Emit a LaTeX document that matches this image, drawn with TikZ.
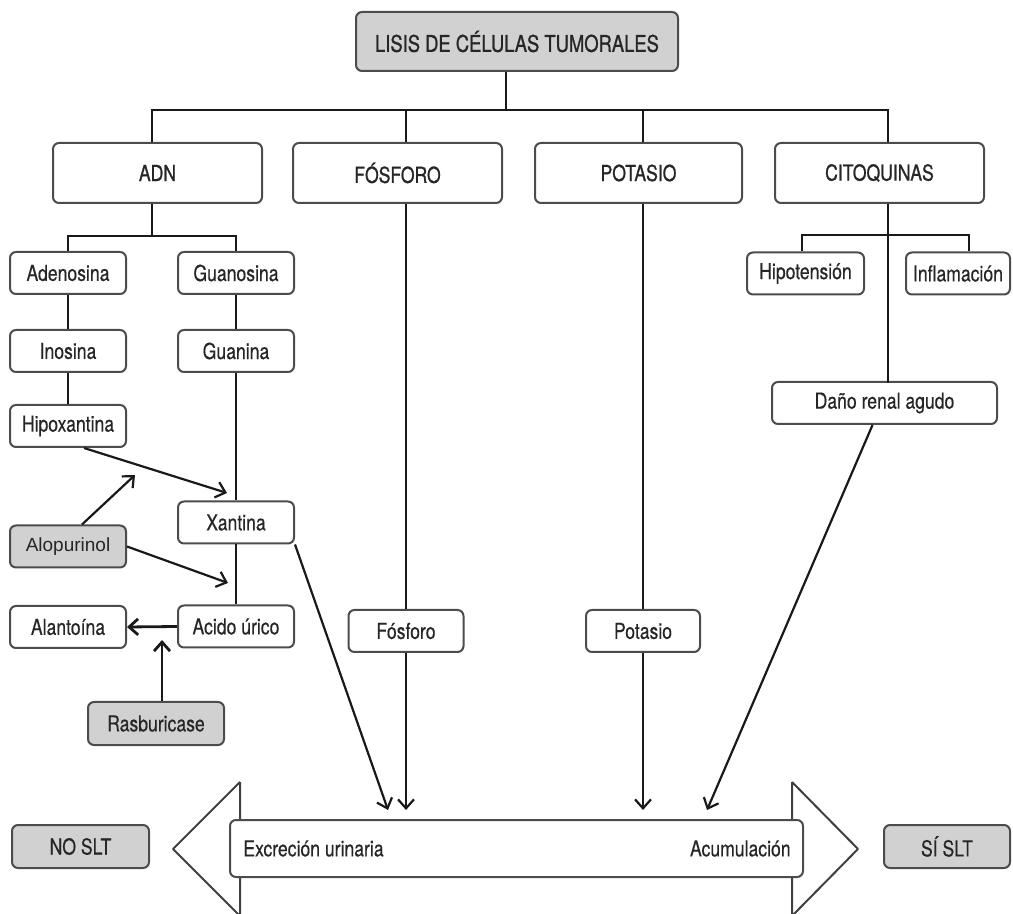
\documentclass[tikz,border=0pt]{standalone}
\usepackage{fontspec}
\setmainfont{TeX Gyre Heros}[FakeStretch=0.8,FakeBold=0.35]
\newfontfamily\cabecera{TeX Gyre Heros}[FakeStretch=0.8,FakeBold=0.9]
\newfontfamily\arialf{Liberation Sans}
\usetikzlibrary{arrows.meta}

\begin{document}
\begin{tikzpicture}[x=0.5pt,y=-0.5pt,
    caja/.style={draw=black!70,line width=1pt,rounded corners=3pt,fill=white,
      text=black!85,inner sep=0pt,minimum width=58pt,minimum height=21pt,
      font=\fontsize{11}{13}\selectfont},
    gris/.style={caja,fill=black!18},
    grande/.style={caja,minimum width=104.5pt,minimum height=30pt,font=\cabecera\fontsize{11}{13}\selectfont},
    linea/.style={line width=1.1pt,black!90},
    flecha/.style={linea,-{Straight Barb[length=4.5pt,width=8pt]}}]
  \useasboundingbox (0,0) rectangle (1013,914);

  \draw[line width=1pt,black!75,line join=round] (240,782) -- (173,849) -- (240,916) (240,782) -- (240,916);
  \draw[line width=1pt,black!75,line join=round] (792,782) -- (858,849) -- (792,916) (792,782) -- (792,916);

  \node[gris,minimum width=161pt,minimum height=29.5pt,font=\cabecera\fontsize{11.5}{13}\selectfont] (titulo) at (517,41.5) {LISIS DE CÉLULAS TUMORALES};

  \node[grande] (adn) at (157.5,173) {ADN};
  \node[grande] (fosforo) at (397.5,173) {FÓSFORO};
  \node[grande,minimum width=103.5pt] (potasio) at (638.5,173) {POTASIO};
  \node[grande] (citoq) at (879.5,173) {CITOQUINAS};

  \node[caja] (adenosina) at (68,273) {Adenosina};
  \node[caja] (guanosina) at (236,273) {Guanosina};
  \node[caja] (inosina) at (68,351) {Inosina};
  \node[caja] (guanina) at (236,351) {Guanina};
  \node[caja] (hipox) at (68,426) {Hipoxantina};
  \node[caja] (xantina) at (236,522.5) {Xantina};
  \node[gris,font=\arialf\fontsize{9.5}{11}\selectfont] (alopurinol) at (68,546.5) {Alopurinol};
  \node[caja] (acido) at (236,626.5) {Acido úrico};
  \node[caja] (alantoina) at (68,627) {Alantoína};
  \node[gris,minimum width=68pt,minimum height=21.5pt] (rasbu) at (156,723.5) {Rasburicase};

  \node[caja,minimum width=57.5pt] (fosforo2) at (406,631) {Fósforo};
  \node[caja,minimum width=57pt] (potasio2) at (643,631) {Potasio};

  \node[caja,minimum width=58.5pt] (hipot) at (805.5,273.5) {Hipotensión};
  \node[caja,minimum width=52pt] (inflam) at (958,273.5) {Inflamación};
  \node[caja,minimum width=112.5pt] (dano) at (884.5,403) {Daño renal agudo};

  \node[caja,minimum width=286.5pt,minimum height=28.5pt] (banda) at (516.5,848.5) {};
  \node[text=black!85,font=\fontsize{11}{13}\selectfont,anchor=west,inner sep=0pt] (excr) at ([xshift=7pt]banda.west) {Excreción urinaria};
  \node[text=black!85,font=\fontsize{11}{13}\selectfont,anchor=east,inner sep=0pt] (acum) at ([xshift=-6.5pt]banda.east) {Acumulación};

  \node[gris,minimum width=68.5pt,minimum height=21.5pt] (noslt) at (80.5,846.5) {NO SLT};
  \node[gris,minimum width=63pt,minimum height=21.5pt] (sislt) at (947,846.5) {SÍ SLT};

  \coordinate (llegada) at (0,810);
  \coordinate (xpunta) at (227,493);
  \coordinate (apunta) at (135,475);
  \coordinate (upunta) at (228,583);
  \coordinate (rpunta) at (162,640);
  \coordinate (e1) at (388,810);
  \coordinate (e4) at (707,810);

  \draw[linea] ([xshift=-5.5pt]titulo.south) -- ++(0,38) coordinate (rama);
  \draw[linea] ([xshift=-2.75pt]adn.north) |- (rama) -| ([xshift=4.25pt]citoq.north);
  \draw[linea] (fosforo2 |- rama) -- (fosforo2 |- fosforo.north);
  \draw[linea] (potasio2 |- rama) -- (potasio2 |- potasio.north);

  \draw[linea] ([xshift=-2.75pt]adn.south) -- ++(0,32) coordinate (ramaadn);
  \draw[linea] (adenosina.north) |- (ramaadn) -| (guanosina.north);
  \draw[linea] (adenosina.south) -- (inosina.north) (inosina.south) -- (hipox.north);
  \draw[linea] (guanosina.south) -- (guanina.north) (guanina.south) -- (xantina.north) (xantina.south) -- (acido.north);

  \draw[flecha] ([xshift=8pt]hipox.south) -- (xpunta);
  \draw[flecha] ([xshift=7pt]alopurinol.north) -- (apunta);
  \draw[flecha] (alopurinol.east) -- (upunta);
  \draw[flecha,line width=1.4pt] (acido.west) -- (alantoina.east);
  \draw[flecha,line width=1.4pt] ([xshift=3pt]rasbu.north) -- (rpunta);

  \draw[linea] (fosforo2 |- fosforo.south) -- (fosforo2.north);
  \draw[flecha] (fosforo2.south) -- (fosforo2 |- llegada);
  \draw[linea] (potasio2 |- potasio.south) -- (potasio2.north);
  \draw[flecha] (potasio2.south) -- (potasio2 |- llegada);

  \draw[linea] ([xshift=4.25pt]citoq.south) -- ++(0,31) coordinate (ramacit) -- ++(0,148);
  \draw[linea] ([xshift=-1.75pt]hipot.north) |- (ramacit) -| ([xshift=5.5pt]inflam.north);

  \draw[flecha] (xantina.south east) -- (e1);
  \draw[flecha] ([xshift=-6pt]dano.south) -- (e4);
\end{tikzpicture}
\end{document}
